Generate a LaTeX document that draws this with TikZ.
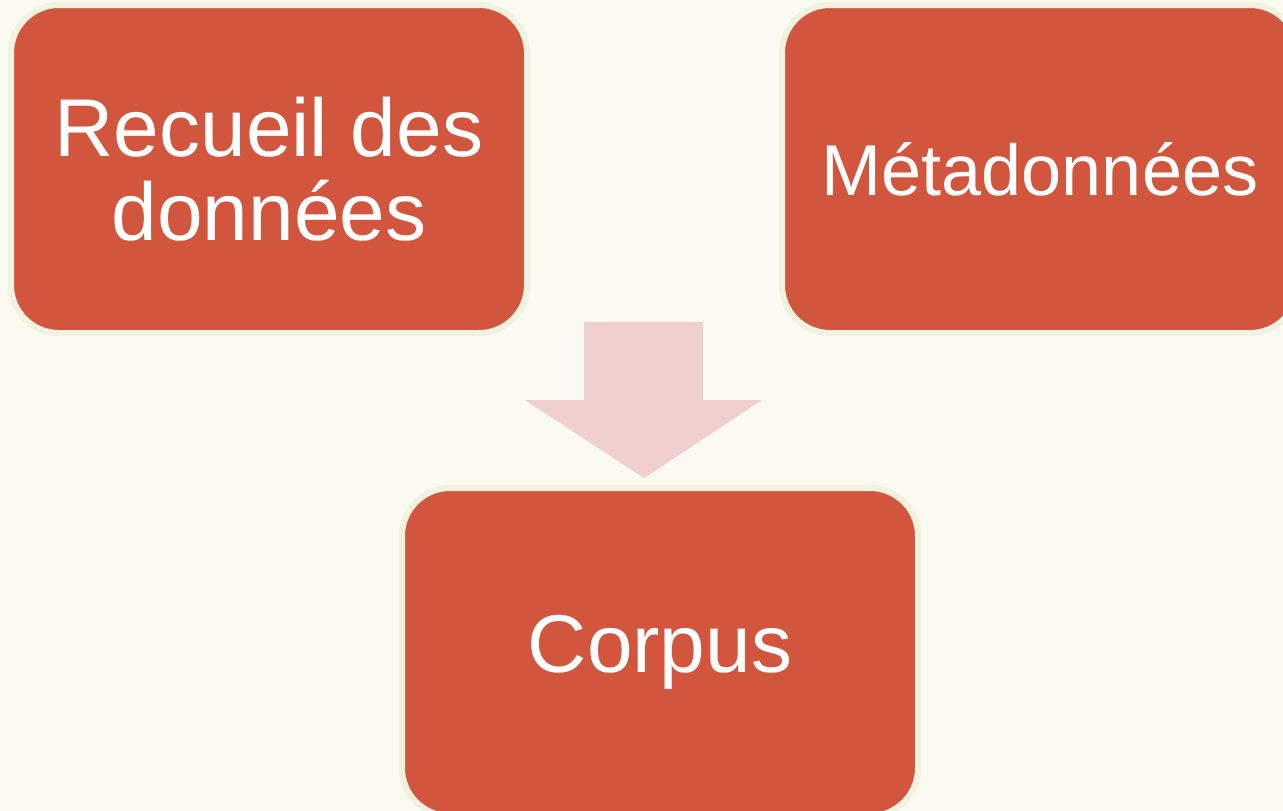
\documentclass[tikz,border=0pt]{standalone}
\usepackage{fontspec}
\setmainfont{Liberation Sans}
\definecolor{fond}{HTML}{FAFAF0}
\definecolor{brique}{HTML}{D2553D}
\definecolor{liseré}{HTML}{F1F2DF}
\definecolor{rose}{HTML}{EFD0CE}
\begin{document}
\begin{tikzpicture}[x=1pt, y=-1pt,
  bloc/.style={draw=liseré, line width=6pt, fill=brique, rounded corners=48pt,
    minimum width=516pt, minimum height=328pt, text=white, align=center,
    font=\fontsize{82}{84}\selectfont}]
\fill [fond] (0, 0) rectangle (1283, 811);
\useasboundingbox (0, 0) rectangle (1283, 811);

% Blocs
\node [bloc] (recueil) at (269, 169) {Recueil des\\données};
\node [bloc, font=\fontsize{72}{76}\selectfont] (meta) at (1040, 169) {Métadonnées};
\node [bloc] (corpus) at (660, 652) {Corpus};

% Flèche
\fill [rose] (584, 322) -- (703, 322) -- (703, 400) -- (762, 400)
  -- (644, 478) -- (525, 400) -- (584, 400) -- cycle;
\end{tikzpicture}
\end{document}
